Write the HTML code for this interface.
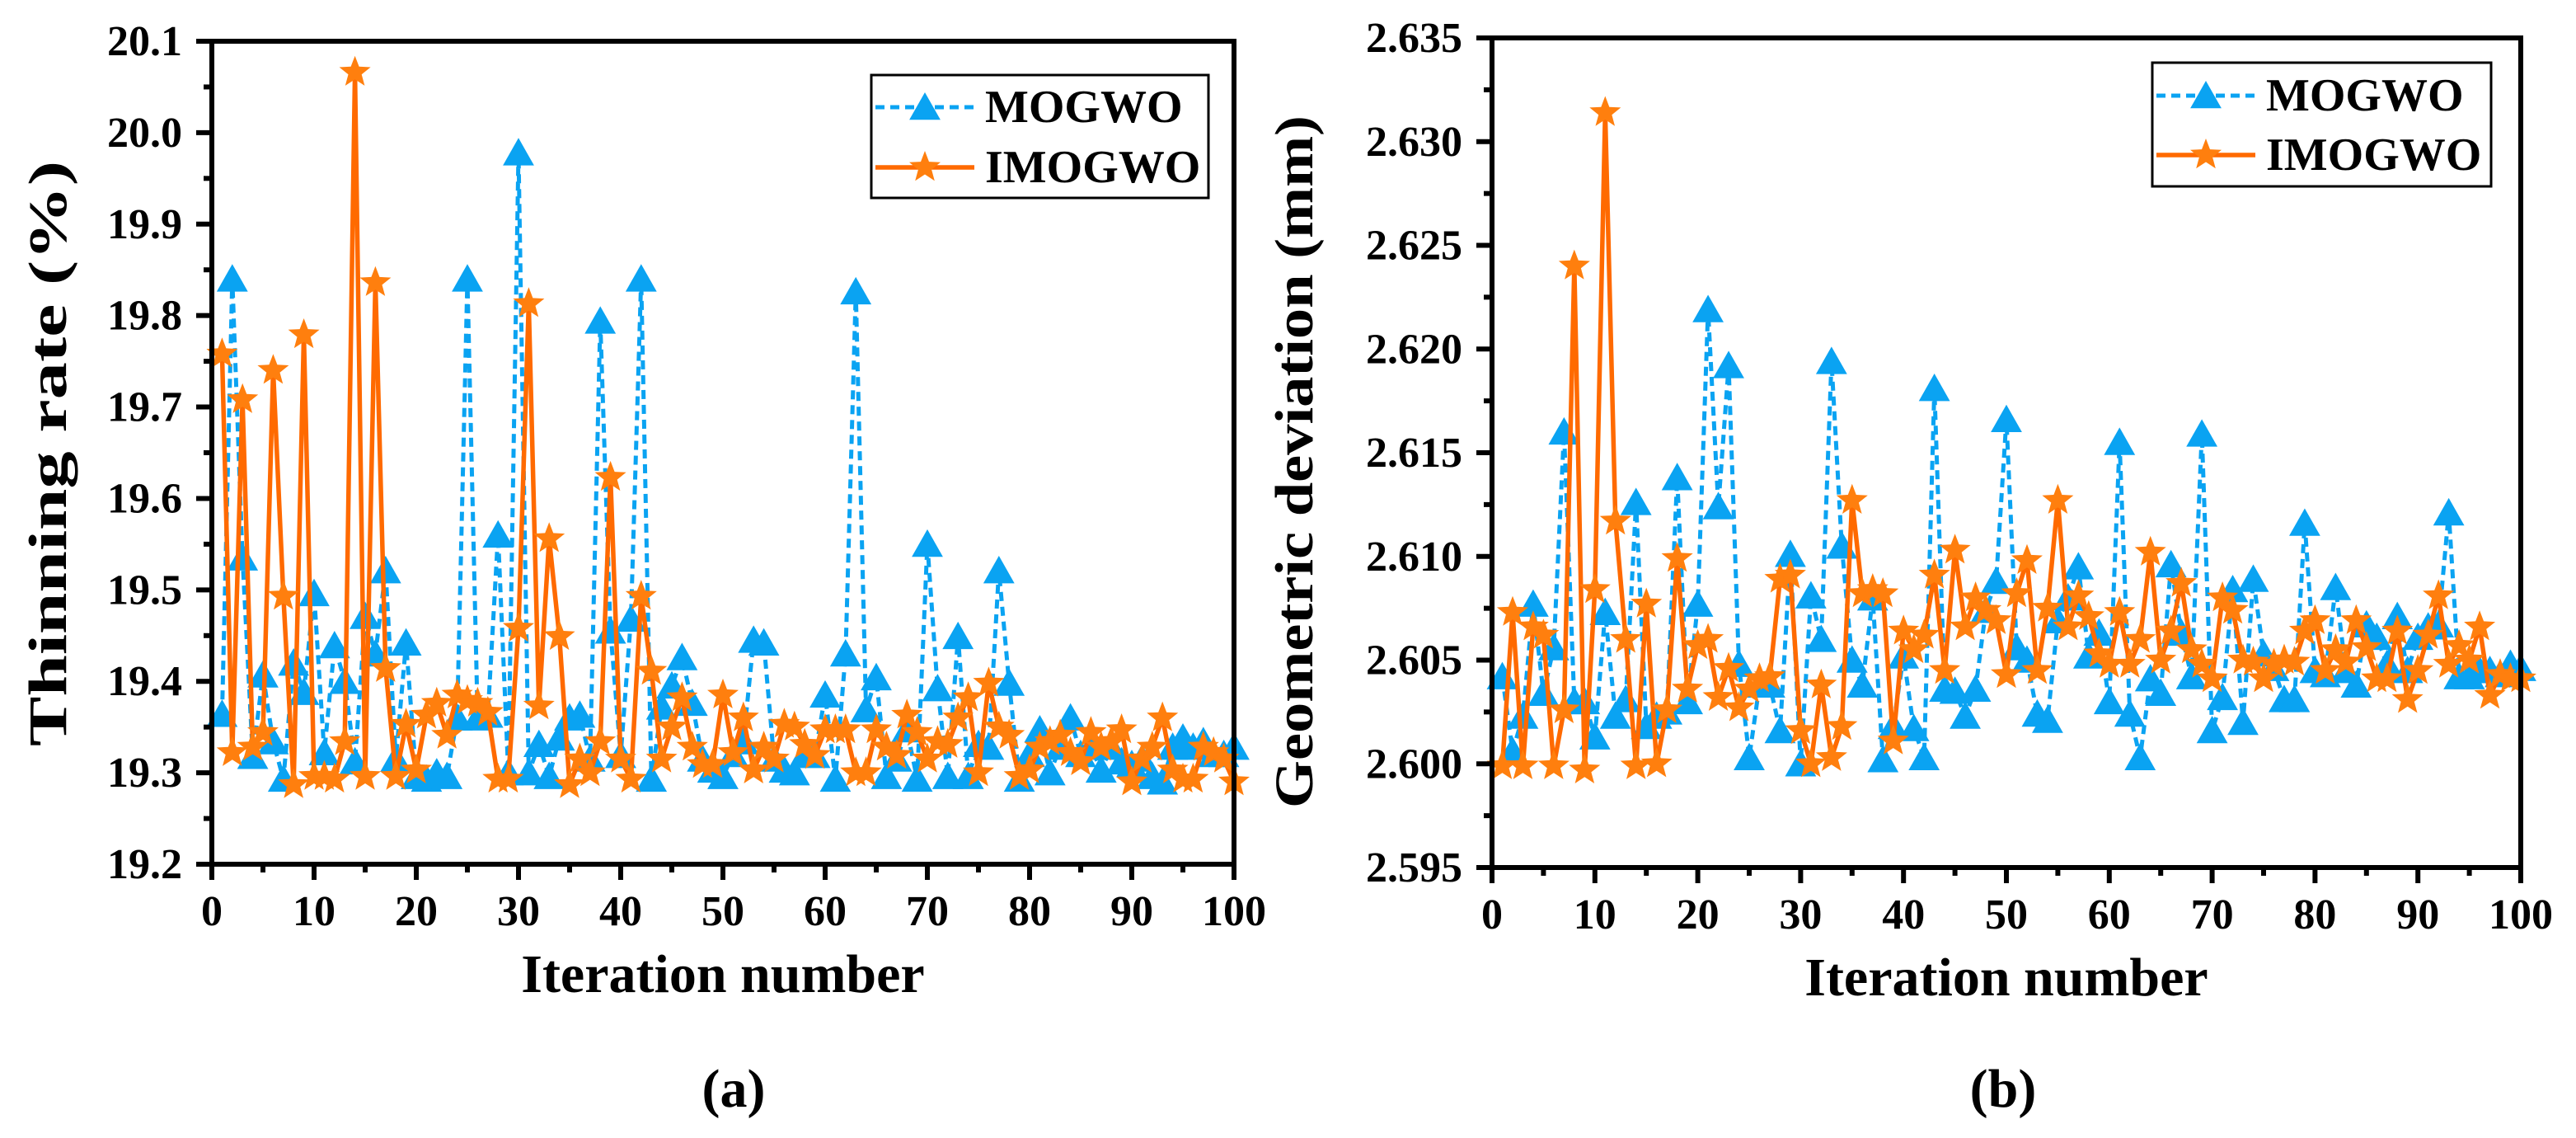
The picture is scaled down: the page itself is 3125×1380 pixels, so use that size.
<!DOCTYPE html>
<html><head><meta charset="utf-8"><style>
html,body{margin:0;padding:0;background:#fff;}
svg{display:block;}
svg text{font-family:"Liberation Serif","Times New Roman",serif;font-weight:bold;}
</style></head><body>
<svg id="chart" width="3125" height="1380" viewBox="0 0 3125 1380" xmlns="http://www.w3.org/2000/svg" font-family="Liberation Serif, serif" font-weight="bold">
<rect width="3125" height="1380" fill="#fff"/>
<g id="pa"></g>
<g id="pb"></g>
<text x="890" y="1342" font-size="66" text-anchor="middle">(a)</text>
<text x="2430" y="1342" font-size="66" text-anchor="middle">(b)</text>
</svg>
<script>
const iterations = Array.from({length:100},(_,i)=>i+1);
const xTicks = [0,10,20,30,40,50,60,70,80,90,100];
const aTicks = [19.2,19.3,19.4,19.5,19.6,19.7,19.8,19.9,20.0,20.1];
const aTickLabels = ["19.2","19.3","19.4","19.5","19.6","19.7","19.8","19.9","20.0","20.1"];
const bTicks = [2.595,2.600,2.605,2.610,2.615,2.620,2.625,2.630,2.635];
const bTickLabels = ["2.595","2.600","2.605","2.610","2.615","2.620","2.625","2.630","2.635"];
const aMOGWO = [19.364,19.84,19.535,19.318,19.407,19.334,19.293,19.42,19.388,19.496,19.322,19.439,19.40,19.312,19.471,19.43,19.521,19.315,19.442,19.296,19.293,19.30,19.296,19.36,19.84,19.36,19.363,19.56,19.30,19.978,19.30,19.331,19.296,19.338,19.36,19.363,19.315,19.794,19.455,19.319,19.468,19.84,19.293,19.372,19.395,19.426,19.376,19.315,19.303,19.296,19.32,19.334,19.445,19.442,19.315,19.303,19.30,19.32,19.319,19.385,19.293,19.43,19.826,19.369,19.404,19.296,19.315,19.347,19.293,19.55,19.392,19.296,19.449,19.296,19.331,19.328,19.521,19.398,19.293,19.32,19.347,19.30,19.328,19.36,19.32,19.328,19.303,19.328,19.312,19.309,19.315,19.296,19.29,19.328,19.338,19.328,19.334,19.32,19.32,19.328];
const aIMOGWO = [19.758,19.322,19.708,19.328,19.344,19.74,19.493,19.287,19.779,19.296,19.296,19.293,19.334,20.066,19.296,19.836,19.414,19.296,19.353,19.303,19.363,19.376,19.341,19.385,19.379,19.376,19.366,19.293,19.293,19.458,19.813,19.373,19.556,19.449,19.287,19.315,19.30,19.334,19.623,19.315,19.293,19.493,19.411,19.315,19.35,19.382,19.328,19.309,19.309,19.385,19.322,19.36,19.303,19.328,19.315,19.353,19.35,19.331,19.319,19.347,19.347,19.347,19.30,19.30,19.347,19.328,19.319,19.363,19.344,19.315,19.334,19.331,19.36,19.382,19.30,19.398,19.35,19.341,19.296,19.303,19.328,19.334,19.341,19.322,19.312,19.344,19.328,19.334,19.347,19.29,19.315,19.328,19.36,19.303,19.293,19.293,19.328,19.322,19.315,19.29];
const bMOGWO = [2.6042,2.6006,2.6023,2.6077,2.6034,2.6056,2.6160,2.6030,2.6030,2.6013,2.6073,2.6023,2.6031,2.6126,2.6018,2.6023,2.6025,2.6138,2.6030,2.6077,2.6219,2.6124,2.6192,2.6048,2.6003,2.6038,2.6038,2.6016,2.6101,2.6000,2.6081,2.6060,2.6194,2.6105,2.6050,2.6038,2.6080,2.6002,2.6018,2.6052,2.6017,2.6003,2.6181,2.6036,2.6035,2.6023,2.6036,2.6074,2.6088,2.6166,2.6056,2.6050,2.6024,2.6021,2.6069,2.6080,2.6095,2.6052,2.6063,2.6030,2.6155,2.6024,2.6003,2.6041,2.6034,2.6096,2.6063,2.6042,2.6159,2.6016,2.6032,2.6084,2.6020,2.6089,2.6053,2.6046,2.6031,2.6031,2.6116,2.6045,2.6043,2.6085,2.6045,2.6038,2.6067,2.6061,2.6048,2.6071,2.6045,2.6061,2.6066,2.6067,2.6121,2.6042,2.6042,2.6045,2.6045,2.6043,2.6048,2.6046];
const bIMOGWO = [2.5999,2.6073,2.5999,2.6066,2.6062,2.5999,2.6026,2.6240,2.5997,2.6084,2.6314,2.6117,2.6060,2.5999,2.6077,2.6000,2.6026,2.6099,2.6036,2.6057,2.6060,2.6032,2.6046,2.6027,2.6036,2.6041,2.6042,2.6089,2.6091,2.6016,2.6000,2.6038,2.6003,2.6018,2.6127,2.6082,2.6084,2.6082,2.6011,2.6064,2.6055,2.6062,2.6091,2.6045,2.6103,2.6066,2.6080,2.6074,2.6069,2.6043,2.6082,2.6098,2.6045,2.6075,2.6127,2.6066,2.6081,2.6071,2.6053,2.6048,2.6073,2.6048,2.6060,2.6102,2.6050,2.6064,2.6087,2.6055,2.6048,2.6041,2.6080,2.6074,2.6050,2.6049,2.6041,2.6048,2.6050,2.6049,2.6064,2.6069,2.6045,2.6055,2.6049,2.6069,2.6056,2.6041,2.6041,2.6064,2.6031,2.6045,2.6062,2.6081,2.6048,2.6057,2.6050,2.6066,2.6033,2.6043,2.6041,2.6041];

const NS = "http://www.w3.org/2000/svg";
const BLUE = "#0aa3f2", ORANGE = "#ff7f0e", OLINE = "#ff6a00";
function mk(tag, attrs, parent){const e=document.createElementNS(NS,tag);for(const k in attrs)e.setAttribute(k,attrs[k]);parent.appendChild(e);return e;}
function triPts(x,y){const s=18;return `${x},${y-s} ${x-s*1.05},${y+s*0.85} ${x+s*1.05},${y+s*0.85}`;}
function starPts(x,y){const R=20,r=8.5;let p=[];for(let k=0;k<10;k++){const a=-Math.PI/2+k*Math.PI/5;const rr=k%2?r:R;p.push((x+rr*Math.cos(a)).toFixed(1)+","+(y+rr*Math.sin(a)).toFixed(1));}return p.join(" ");}

function drawPanel(g, P, ticks, tickLabels, mog, imog, yTitle, leg){
  const sx = v => P.x0 + (v-0)/(100)*(P.x1-P.x0);
  const sy = v => P.y1 - (v-P.vmin)/(P.vmax-P.vmin)*(P.y1-P.y0);
  const l1 = mk("polyline",{points:iterations.map((t,i)=>sx(t)+","+sy(mog[i])).join(" "),fill:"none",stroke:BLUE,"stroke-width":5,"stroke-dasharray":"11,7"},g);
  
  
  iterations.forEach((t,i)=>{const m=mk("polygon",{points:triPts(sx(t),sy(mog[i])),fill:BLUE},g);
    
    });
  const l2 = mk("polyline",{points:iterations.map((t,i)=>sx(t)+","+sy(imog[i])).join(" "),fill:"none",stroke:OLINE,"stroke-width":5.5,"stroke-linejoin":"round"},g);
  
  
  iterations.forEach((t,i)=>{const m=mk("polygon",{points:starPts(sx(t),sy(imog[i])),fill:ORANGE},g);
    
    });
  const fr = mk("rect",{x:P.x0,y:P.y0,width:P.x1-P.x0,height:P.y1-P.y0,fill:"none",stroke:"#000","stroke-width":6},g);
  
  
  ticks.forEach((v,i)=>{const y=sy(v);
    const t=mk("line",{x1:P.x0-19,x2:P.x0,y1:y,y2:y,stroke:"#000","stroke-width":6},g);
    
    
    if(i<ticks.length-1){const ym=sy((v+ticks[i+1])/2);
      const mt=mk("line",{x1:P.x0-10,x2:P.x0,y1:ym,y2:ym,stroke:"#000","stroke-width":6},g);
      
      }
    const lb=mk("text",{x:P.x0-36,y:y+17,"font-size":52,"text-anchor":"end"},g);lb.textContent=tickLabels[i];
    
    });
  xTicks.forEach((v,i)=>{const x=sx(v);
    const t=mk("line",{x1:x,x2:x,y1:P.y1,y2:P.y1+19,stroke:"#000","stroke-width":6},g);
    
    
    if(i<xTicks.length-1){const xm=sx(v+5);
      const mt=mk("line",{x1:xm,x2:xm,y1:P.y1,y2:P.y1+10,stroke:"#000","stroke-width":6},g);
      
      }
    const lb=mk("text",{x:x,y:P.y1+74,"font-size":52,"text-anchor":"middle"},g);lb.textContent=String(v);
    
    });
  const xt=mk("text",{x:(P.x0+P.x1)/2,y:P.y1+155,"font-size":66,"text-anchor":"middle"},g);xt.textContent="Iteration number";
  
  
  const yt=mk("text",{x:0,y:0,"font-size":66,"text-anchor":"middle",transform:`translate(${P.ytx},${P.yty}) rotate(-90)`,textLength:P.ytl,lengthAdjust:"spacingAndGlyphs"},g);yt.textContent=yTitle;
  
  
  const lg=mk("g",{},g);
  
  
  const lb=mk("rect",{x:leg.x,y:leg.y,width:leg.w,height:leg.h,fill:"#fff",stroke:"#000","stroke-width":3},lg);
  
  
  const e1=mk("line",{x1:leg.x+5,x2:leg.x+125,y1:leg.r1,y2:leg.r1,stroke:BLUE,"stroke-width":5,"stroke-dasharray":"11,7"},lg);
  
  
  const e1m=mk("polygon",{points:triPts(leg.x+65,leg.r1),fill:BLUE},lg);
  
  
  const t1=mk("text",{x:leg.x+138,y:leg.r1+18,"font-size":56},lg);t1.textContent="MOGWO";
  
  
  const e2=mk("line",{x1:leg.x+5,x2:leg.x+125,y1:leg.r2,y2:leg.r2,stroke:OLINE,"stroke-width":5.5},lg);
  
  
  const e2m=mk("polygon",{points:starPts(leg.x+65,leg.r2),fill:ORANGE},lg);
  
  
  const t2=mk("text",{x:leg.x+138,y:leg.r2+18,"font-size":56},lg);t2.textContent="IMOGWO";
  
  
}
drawPanel(document.getElementById("pa"),
  {x0:257,x1:1497,y0:50,y1:1048,vmin:19.2,vmax:20.1,ytx:80,yty:550,ytl:710},
  aTicks,aTickLabels,aMOGWO,aIMOGWO,"Thinning rate (%)",
  {x:1057,y:91,w:409,h:149,r1:130,r2:203});
drawPanel(document.getElementById("pb"),
  {x0:1810,x1:3058,y0:46,y1:1052,vmin:2.595,vmax:2.635,ytx:1592,yty:560,ytl:840},
  bTicks,bTickLabels,bMOGWO,bIMOGWO,"Geometric deviation (mm)",
  {x:2611,y:76,w:411,h:150,r1:116,r2:188});
</script>
</body></html>
